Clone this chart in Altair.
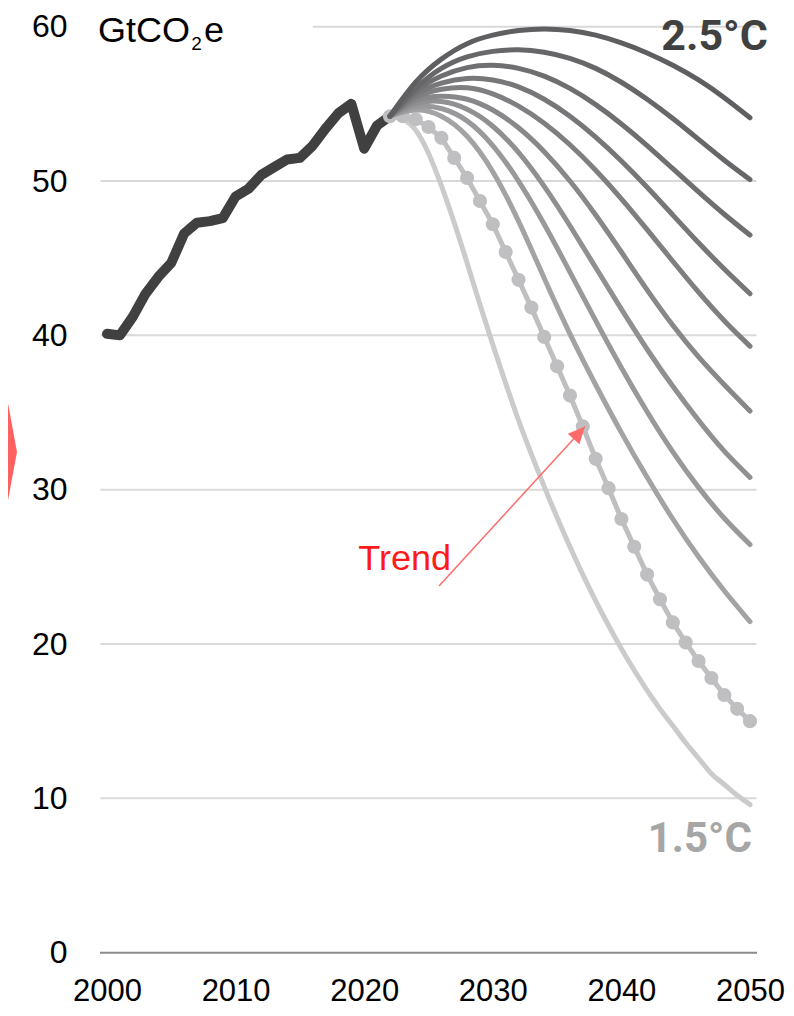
import altair as alt
import pandas as pd

# ---------------- data ----------------
hist_years = list(range(2000, 2023))
hist_values = [40.1, 40.0, 41.2, 42.7, 43.8, 44.7, 46.6, 47.3, 47.4, 47.6, 49.0,
               49.5, 50.4, 50.9, 51.4, 51.5, 52.3, 53.4, 54.4, 55.0, 52.1, 53.6, 54.2]

scen_years = [2022, 2024, 2026, 2028, 2030, 2032, 2034, 2036, 2038, 2040, 2042, 2044, 2046, 2048, 2050]
L1 = [54.2, 56.4, 57.9, 58.9, 59.45, 59.75, 59.85, 59.75, 59.45, 58.95, 58.3, 57.5, 56.55, 55.4, 54.1]
L2 = [54.2, 56.0, 57.3, 58.05, 58.4, 58.5, 58.35, 57.95, 57.3, 56.4, 55.3, 54.05, 52.7, 51.35, 50.1]
L3 = [54.2, 55.8, 56.8, 57.35, 57.5, 57.3, 56.8, 56.0, 54.95, 53.7, 52.3, 50.8, 49.3, 47.85, 46.5]
L4 = [54.2, 55.6, 56.35, 56.65, 56.55, 56.1, 55.3, 54.2, 52.85, 51.3, 49.6, 47.8, 46.0, 44.3, 42.7]
L5 = [54.2, 55.4, 55.95, 56.05, 55.65, 54.85, 53.75, 52.35, 50.7, 48.85, 46.85, 44.8, 42.8, 40.95, 39.3]
L6 = [54.2, 55.2, 55.5, 55.3, 54.6, 53.45, 51.9, 50.0, 47.8, 45.4, 42.95, 40.65, 38.6, 36.8, 35.1]
L7 = [54.2, 55.0, 55.15, 54.65, 53.55, 51.85, 49.65, 47.1, 44.4, 41.7, 39.1, 36.7, 34.5, 32.5, 30.8]
L8 = [54.2, 54.8, 54.7, 53.9, 52.3, 50.0, 47.2, 44.1, 40.95, 37.9, 35.05, 32.45, 30.15, 28.15, 26.45]
L9 = [54.2, 54.6, 54.2, 52.9, 50.6, 47.4, 43.7, 40.1, 36.8, 33.7, 30.8, 28.1, 25.65, 23.45, 21.45]
scen_colors = ["#5f5f62", "#67676a", "#6f6f72", "#77777a", "#7f7f82",
               "#88888b", "#909093", "#99999c", "#a3a3a6"]

trend_years = list(range(2022, 2051))
trend_values = [54.2, 54.2, 54.0, 53.5, 52.8, 51.5, 50.2, 48.7, 47.2, 45.4, 43.6, 41.8, 39.9,
                38.0, 36.1, 34.1, 32.0, 30.1, 28.1, 26.3, 24.5, 22.9, 21.4, 20.1, 18.9,
                17.8, 16.7, 15.8, 15.0]

low_years = list(range(2022, 2051))
low_values = [54.2, 54.0, 53.3, 51.8, 49.7, 47.3, 44.7, 42.0, 39.4, 36.9, 34.5, 32.3, 30.2,
              28.2, 26.3, 24.5, 22.8, 21.2, 19.7, 18.3, 17.0, 15.8, 14.7, 13.6, 12.6,
              11.6, 10.9, 10.2, 9.6]

grid_values = [10, 20, 30, 40, 50, 60]
grid_start = [1999.5, 1999.5, 1999.5, 1999.5, 1999.5, 2016.0]
grid_end = [2050.5] * 6

x_ticks = [2000, 2010, 2020, 2030, 2040, 2050]
y_ticks = [0, 10, 20, 30, 40, 50, 60]

# decorative chevron (left edge) and annotation arrow
chev_x = [1992.0, 1993.0]
chev_top = [36.97, 32.44]
chev_bottom = [27.97, 32.44]
arrow_from = (2025.82, 23.76)
arrow_to = (2037.17, 34.1)

# ---------------- encodings ----------------
X = alt.X("x:Q", scale=alt.Scale(domain=[2000, 2050], nice=False, zero=False),
          axis=alt.Axis(values=x_ticks, format="d", grid=False, domain=False, ticks=False,
                        labelFlush=False, labelFont="Liberation Sans", labelFontSize=31,
                        labelColor="#000000", labelPadding=24, title=None))
Y = alt.Y("y:Q", scale=alt.Scale(domain=[0, 60], nice=False, zero=False),
          axis=alt.Axis(values=y_ticks, grid=False, domain=False, ticks=False, labelFlush=False,
                        labelFont="Liberation Sans", labelFontSize=32, labelColor="#000000",
                        labelPadding=40, title=None))

layers = []

# chevron
chev_df = pd.DataFrame({"x": chev_x, "y": chev_top, "y2": chev_bottom})
layers.append(alt.Chart(chev_df).mark_area(color="#ff6161").encode(x=X, y=Y, y2="y2:Q"))

# gridlines
grid_df = pd.DataFrame({"x": grid_start, "x2": grid_end, "y": grid_values})
layers.append(alt.Chart(grid_df).mark_rule(color="#d9d9d9", strokeWidth=2).encode(x=X, x2="x2:Q", y=Y))

# x axis line
axis_df = pd.DataFrame({"x": [1999.45], "x2": [2050.55], "y": [0]})
layers.append(alt.Chart(axis_df).mark_rule(color="#8c8c8c", strokeWidth=2).encode(x=X, x2="x2:Q", y=Y))

# historical
hist_df = pd.DataFrame({"x": hist_years, "y": hist_values})
layers.append(alt.Chart(hist_df).mark_line(color="#404040", strokeWidth=10, strokeCap="round",
                                           strokeJoin="round").encode(x=X, y=Y))

# 1.5 C pathway
low_df = pd.DataFrame({"x": low_years, "y": low_values})
layers.append(alt.Chart(low_df).mark_line(color="#cbcbcb", strokeWidth=5, strokeCap="round",
                                          interpolate="monotone").encode(x=X, y=Y))

# trend
trend_df = pd.DataFrame({"x": trend_years, "y": trend_values})
layers.append(alt.Chart(trend_df).mark_line(color="#bfbfc1", strokeWidth=5).encode(x=X, y=Y))
layers.append(alt.Chart(trend_df).mark_circle(color="#bfbfc1", size=200, opacity=1).encode(x=X, y=Y))

# scenario fan (light drawn first, dark on top)
scen_series = [L1, L2, L3, L4, L5, L6, L7, L8, L9]
for vals, col in reversed(list(zip(scen_series, scen_colors))):
    df = pd.DataFrame({"x": scen_years, "y": vals})
    layers.append(alt.Chart(df).mark_line(color=col, strokeWidth=5, strokeCap="round",
                                          interpolate="natural").encode(x=X, y=Y))

# arrow
arrow_df = pd.DataFrame({"x": [arrow_from[0]], "y": [arrow_from[1]],
                         "x2": [arrow_to[0]], "y2": [arrow_to[1]]})
layers.append(alt.Chart(arrow_df).mark_rule(color="#ff6b6b", strokeWidth=1.5).encode(
    x=X, y=Y, x2="x2:Q", y2="y2:Q"))
head_df = pd.DataFrame({"x": [arrow_to[0]], "y": [arrow_to[1]]})
layers.append(alt.Chart(head_df).mark_point(shape="M0,0L0.78,1.7L-0.78,1.7Z", size=400, angle=42,
                                            filled=True, color="#ff6b6b", opacity=1).encode(x=X, y=Y))

# texts
def text_layer(label, x, y, align, size, color, font, weight="normal"):
    df = pd.DataFrame({"x": [x], "y": [y], "t": [label]})
    return alt.Chart(df).mark_text(align=align, baseline="alphabetic", fontSize=size, color=color,
                                   font=font, fontWeight=weight).encode(x=X, y=Y, text="t:N")

layers.append(text_layer("GtCO", 1999.3, 59.0, "left", 36, "#000000", "Liberation Sans"))
layers.append(text_layer("2", 2006.55, 58.48, "left", 19, "#000000", "Liberation Sans"))
layers.append(text_layer("e", 2007.55, 59.0, "left", 36, "#000000", "Liberation Sans"))
layers.append(text_layer("2.5°C", 2051.4, 58.49, "right", 43, "#404040", "Roboto", "bold"))
layers.append(text_layer("1.5°C", 2050.15, 6.54, "right", 42, "#a6a6a6", "Roboto", "bold"))
layers.append(text_layer("Trend", 2026.75, 24.8, "right", 36, "#ff1a1a", "Liberation Sans"))

chart = alt.layer(*layers).properties(
    width=643, height=926,
    autosize=alt.AutoSizeParams(type="none"),
    padding={"left": 99, "top": 18.7, "right": 36, "bottom": 55},
    background="#ffffff",
).configure_view(stroke=None)

chart.save("out.html", embed_options={"renderer": "svg", "actions": False})
